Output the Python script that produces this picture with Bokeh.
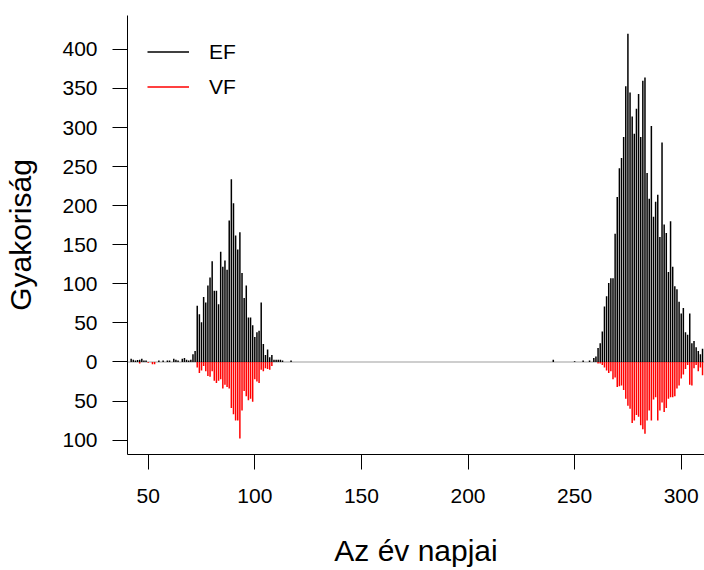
from bokeh.plotting import figure
from bokeh.models import Range1d, FixedTicker, Span, Legend, LegendItem
from bokeh.embed import file_html
from bokeh.resources import INLINE

# EF counts (plotted upward) by day of year
ef_days = [42, 43, 44, 45, 46, 47, 48, 49, 55, 57, 59, 60, 62, 63, 64, 66, 67, 68, 69, 70,
           71, 72, 73, 74, 75, 76, 77, 78, 79, 80, 81, 82, 83, 84, 85, 86, 87, 88, 89, 90,
           91, 92, 93, 94, 95, 96, 97, 98, 99, 100, 101, 102, 103, 104, 105, 106, 107, 108,
           109, 110, 111, 112, 113, 117,
           240, 250, 254, 257, 259, 260, 261, 262, 263, 264, 265, 266, 267, 268, 269, 270,
           271, 272, 273, 274, 275, 276, 277, 278, 279, 280, 281, 282, 283, 284, 285, 286,
           287, 288, 289, 290, 291, 292, 293, 294, 295, 296, 297, 298, 299, 300, 301, 302,
           303, 304, 305, 306, 307, 308, 309, 310]
ef_vals = [4, 3, 2, 2.5, 3, 4, 2, 2, 2, 2, 2, 2, 4, 3, 2, 4, 5, 3, 2, 3,
           10, 14, 72, 61, 51, 83, 76, 98, 108, 129, 91, 91, 74, 141, 122, 130, 118, 181, 234, 203,
           162, 144, 166, 114, 82, 98, 57, 57, 47, 32, 38, 40, 76, 23, 9, 16, 6, 9,
           3, 3, 3, 3, 2, 2,
           3, 1, 2, 2, 5, 7, 18, 24, 39, 71, 84, 101, 107, 107, 164, 211,
           248, 261, 288, 353, 420, 345, 314, 292, 324, 343, 288, 360, 364, 242, 209, 302,
           186, 205, 214, 160, 281, 176, 165, 115, 180, 122, 97, 93, 77, 62, 69, 38,
           35, 62, 24, 27, 19, 14, 10, 17]

# VF counts (plotted downward) by day of year
vf_days = [46, 50, 52, 53, 73, 74, 75, 76, 77, 78, 79, 80, 81, 82, 83, 84, 85, 86, 87, 88,
           89, 90, 91, 92, 93, 94, 95, 96, 97, 98, 99, 100, 101, 102, 103, 104, 105, 106,
           107, 108,
           261, 262, 263, 264, 265, 266, 267, 268, 269, 270, 271, 272, 273, 274, 275, 276,
           277, 278, 279, 280, 281, 282, 283, 284, 285, 286, 287, 288, 289, 290, 291, 292,
           293, 294, 295, 296, 297, 298, 299, 300, 301, 302, 303, 304, 305, 306, 307, 308,
           309, 310]
vf_vals = [2, 1, 3, 3, 7, 14, 11, 5, 12, 18, 19, 12, 24, 27, 24, 22, 34, 29, 32, 34,
           59, 67, 75, 75, 98, 62, 37, 44, 49, 47, 51, 22, 25, 27, 10, 12, 8, 9,
           10, 5,
           2, 2, 4, 7, 11, 14, 12, 22, 20, 32, 31, 30, 36, 47, 56, 60,
           78, 75, 68, 70, 81, 86, 92, 75, 62, 75, 48, 45, 75, 62, 52, 64,
           59, 47, 45, 45, 44, 34, 30, 21, 16, 9, 4, 29, 30, 8, 4, 12,
           7, 17]

x_ticks = [50, 100, 150, 200, 250, 300]
y_ticks = [-100, -50, 0, 50, 100, 150, 200, 250, 300, 350, 400]
y_tick_labels = {t: str(abs(t)) for t in y_ticks}

FONT = "Liberation Sans"

p = figure(width=704, height=570, output_backend="svg", toolbar_location=None,
           x_range=Range1d(40.29, 310.92), y_range=Range1d(-118.4, 443.4),
           min_border_left=127, min_border_right=0, min_border_top=15,
           min_border_bottom=116)
p.outline_line_color = None
p.grid.visible = False
p.background_fill_color = "white"
p.border_fill_color = "white"

zero = Span(location=0, dimension="width", line_color="#bebebe", line_width=1.5,
            level="underlay")
p.add_layout(zero)

ef_r = p.segment(x0=ef_days, y0=[0] * len(ef_days), x1=ef_days, y1=ef_vals,
                 line_color="black", line_width=1.5, line_cap="butt")
vf_r = p.segment(x0=vf_days, y0=[0] * len(vf_days), x1=vf_days, y1=[-v for v in vf_vals],
                 line_color="#ff0000", line_width=1.5, line_cap="butt")

for ax in (p.xaxis, p.yaxis):
    ax.major_tick_out = 15
    ax.major_tick_in = 0
    ax.minor_tick_out = 0
    ax.minor_tick_in = 0
    ax.axis_line_color = "black"
    ax.axis_line_width = 1
    ax.major_tick_line_color = "black"
    ax.major_label_text_font = FONT
    ax.major_label_text_font_size = "21px"
    ax.major_label_text_color = "black"
    ax.axis_label_text_font = FONT
    ax.axis_label_text_font_size = "30px"
    ax.axis_label_text_font_style = "normal"
    ax.axis_label_text_color = "black"

p.xaxis.ticker = FixedTicker(ticks=x_ticks)
p.yaxis.ticker = FixedTicker(ticks=y_ticks)
p.yaxis.major_label_overrides = y_tick_labels
p.xaxis.major_label_standoff = 19
p.yaxis.major_label_standoff = 15
p.xaxis.axis_label = "Az év napjai"
p.yaxis.axis_label = "Gyakoriság"
p.xaxis.axis_label_standoff = 28
p.yaxis.axis_label_standoff = 22

legend = Legend(items=[LegendItem(label="EF", renderers=[ef_r]),
                       LegendItem(label="VF", renderers=[vf_r])],
                location="top_left", margin=20, padding=0, glyph_width=42,
                glyph_height=33, spacing=2, label_standoff=20,
                label_text_font=FONT, label_text_font_size="21px",
                label_text_color="black",
                border_line_color=None, background_fill_alpha=0)
p.add_layout(legend)

open("out.html", "w").write(file_html(p, INLINE))
